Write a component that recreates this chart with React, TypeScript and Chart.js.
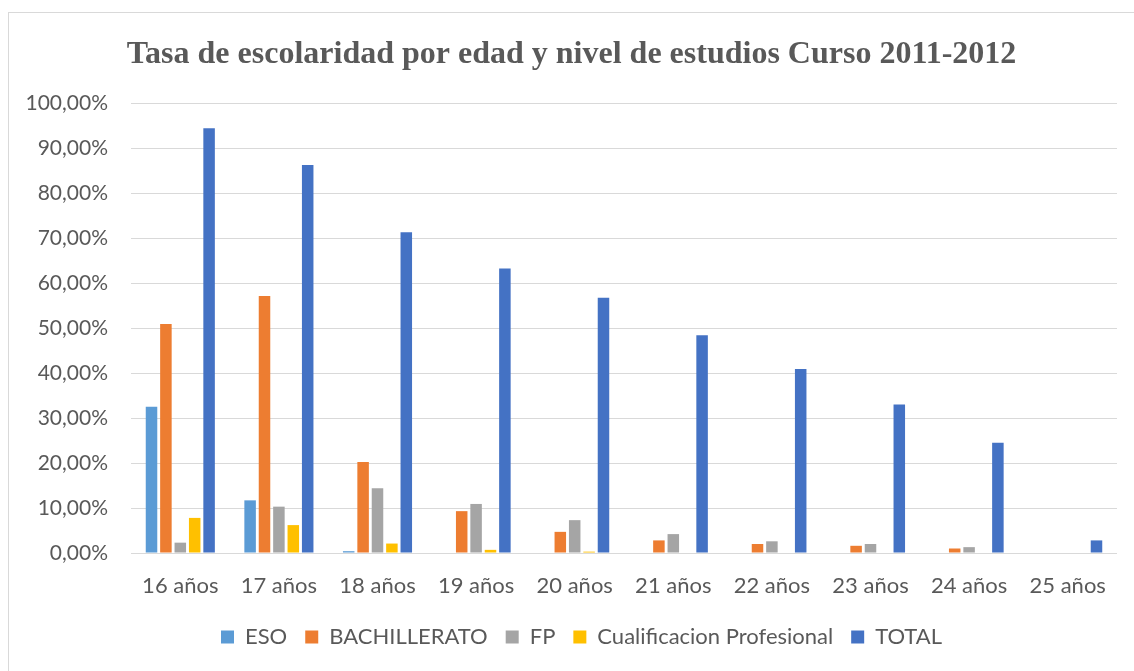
import React, { useEffect, useRef } from "react";
import { Chart, registerables } from "chart.js";

Chart.register(...registerables);

const TITLE = "Tasa de escolaridad por edad y nivel de estudios Curso 2011-2012";
const CATEGORIES = ["16 años", "17 años", "18 años", "19 años", "20 años", "21 años", "22 años", "23 años", "24 años", "25 años"];
const ESO = [32.5, 11.7, 0.4, 0, 0, 0, 0, 0, 0, 0];
const BACHILLERATO = [50.9, 57.1, 20.2, 9.3, 4.7, 2.8, 2.0, 1.6, 1.0, 0];
const FP = [2.3, 10.3, 14.4, 10.9, 7.3, 4.2, 2.6, 2.0, 1.3, 0];
const CUALIFICACION = [7.8, 6.2, 2.1, 0.7, 0.3, 0, 0, 0, 0, 0];
const TOTAL = [94.4, 86.2, 71.3, 63.2, 56.7, 48.4, 40.9, 33.0, 24.5, 2.8];
const Y_MIN = 0;
const Y_MAX = 100;
const Y_STEP = 10;

const TEXT = "#595959";
const GRID = "#d9d9d9";

export default function App() {
  const ref = useRef<HTMLCanvasElement | null>(null);

  useEffect(() => {
    if (!ref.current) return;
    const titlePlugin = {
      id: "centeredTitle",
      afterLayout(chart: any) {
        // shift legend's centering box to match the reference layout
        if (chart.legend) chart.legend.left += 37;
      },
      afterDraw(chart: any) {
        const ctx = chart.ctx;
        ctx.save();
        ctx.font = 'bold 32px "Liberation Serif", "Times New Roman", serif';
        ctx.fillStyle = TEXT;
        ctx.textAlign = "center";
        ctx.textBaseline = "alphabetic";
        ctx.fillText(TITLE, chart.width / 2, 50);
        ctx.restore();
      },
    };
    const mk = (label: string, data: number[], color: string) => ({
      label,
      data,
      backgroundColor: color,
      borderWidth: 0,
      barPercentage: 0.8,
      categoryPercentage: 0.73,
    });
    const chart = new Chart(ref.current, {
      type: "bar",
      data: {
        labels: CATEGORIES,
        datasets: [
          mk("ESO", ESO, "#5b9bd5"),
          mk("BACHILLERATO", BACHILLERATO, "#ed7d31"),
          mk("FP", FP, "#a5a5a5"),
          mk("Cualificacion Profesional", CUALIFICACION, "#ffc000"),
          mk("TOTAL", TOTAL, "#4472c4"),
        ],
      },
      options: {
        responsive: false,
        animation: false,
        devicePixelRatio: 1,
        layout: { padding: { top: 90, left: 0, right: 17, bottom: 13 } },
        plugins: {
          title: { display: false },
          tooltip: { enabled: false },
          legend: {
            position: "bottom",
            labels: {
              boxWidth: 13,
              boxHeight: 13,
              padding: 18,
              color: TEXT,
              font: { family: "Lato", size: 22 },
            },
          },
        },
        scales: {
          x: {
            grid: { display: false, drawTicks: false },
            border: { display: false },
            ticks: {
              color: TEXT,
              font: { family: "Lato", size: 22 },
              padding: 20,
              autoSkip: false,
              maxRotation: 0,
            },
            afterFit(scale: any) {
              scale.height = 55;
            },
          },
          y: {
            min: Y_MIN,
            max: Y_MAX,
            grid: { color: GRID, lineWidth: 1, drawTicks: false },
            border: { display: false },
            ticks: {
              stepSize: Y_STEP,
              color: TEXT,
              font: { family: "Lato", size: 21 },
              padding: 23,
              callback: (v: any) => Number(v).toFixed(2).replace(".", ",") + "%",
            },
            afterFit(scale: any) {
              scale.width = 122;
            },
          },
        },
      },
      plugins: [titlePlugin],
    });
    return () => chart.destroy();
  }, []);

  return (
    <div
      style={{
        position: "fixed",
        left: 8,
        top: 12,
        width: 1126,
        height: 659,
        borderTop: "1px solid #d9d9d9",
        borderLeft: "1px solid #d9d9d9",
        background: "#fff",
        overflow: "hidden",
      }}
    >
      <canvas ref={ref} width={1125} height={658} style={{ display: "block" }} />
    </div>
  );
}
